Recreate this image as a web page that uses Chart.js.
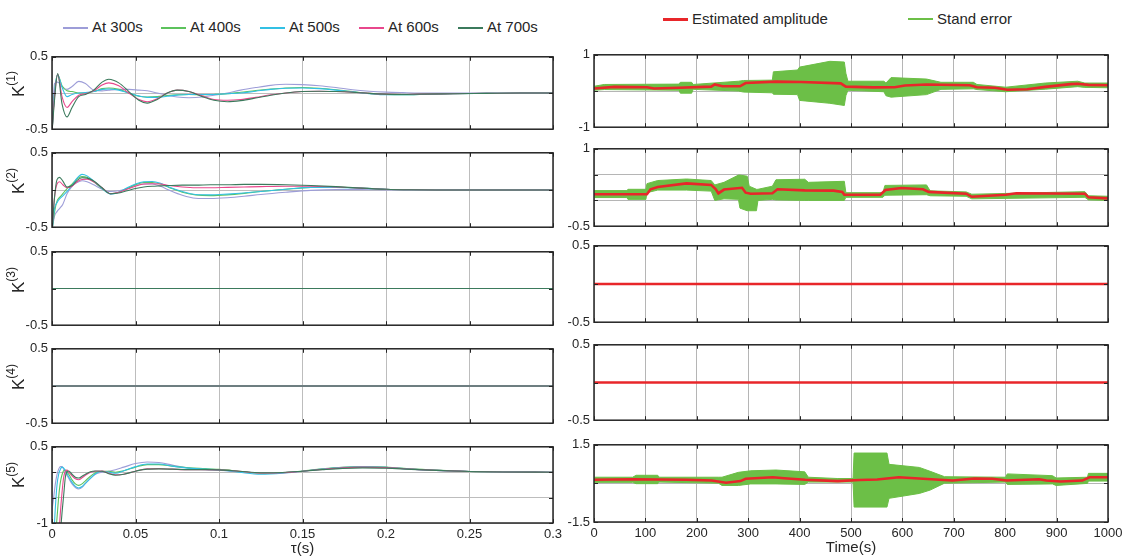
<!DOCTYPE html>
<html><head><meta charset="utf-8">
<script src="https://cdn.jsdelivr.net/npm/chart.js@4.4.1/dist/chart.umd.min.js"></script>
<style>
html,body{margin:0;padding:0;background:#fff;}
body{width:1126px;height:558px;position:relative;overflow:hidden;font-family:"Liberation Sans",Arial,Helvetica,sans-serif;color:#262626;}
.box{position:absolute;}
.leg{position:absolute;font-size:15px;line-height:18px;white-space:nowrap;}
.sw{position:absolute;}
.ylab{position:absolute;transform:rotate(-90deg);transform-origin:0 0;font-size:17px;line-height:20px;white-space:nowrap;}
.ylab sup{font-size:12px;line-height:0;position:relative;top:-2px;}
</style></head><body>
<script>
// ---------------- DATA ----------------
const legendLeft = ['At 300s','At 400s','At 500s','At 600s','At 700s'];
const legendRight = ['Estimated amplitude','Stand error'];
const kLabels = ['(1)','(2)','(3)','(4)','(5)'];

const tauTicks = [0,0.05,0.1,0.15,0.2,0.25,0.3];
const tauLabels = ['0','0.05','0.1','0.15','0.2','0.25','0.3'];
const timeTicks = [0,100,200,300,400,500,600,700,800,900,1000];
const timeLabels = ['0','100','200','300','400','500','600','700','800','900','1000'];

const leftYTicks = [[-0.5,0,0.5],[-0.5,0,0.5],[-0.5,0,0.5],[-0.5,0,0.5],[-1,-0.5,0,0.5]];
const leftYLabels = [['-0.5','','0.5'],['-0.5','','0.5'],['-0.5','','0.5'],['-0.5','','0.5'],['-1','','','0.5']];
const rightYTicks = [[-1,0,1],[-0.5,0,0.5,1],[-0.5,0,0.5],[-0.5,0,0.5],[-1.5,0,1.5]];
const rightYLabels = [['-1','','1'],['-0.5','','','1'],['-0.5','','0.5'],['-0.5','','0.5'],['-1.5','','1.5']];

// K(1)
const tauK1 = [0,0.0015,0.0034,0.006,0.009,0.012,0.016,0.02,0.025,0.03,0.034,0.04,0.046,0.052,0.057,0.063,0.069,0.075,0.082,0.09,0.097,0.105,0.113,0.122,0.131,0.14,0.15,0.16,0.17,0.18,0.19,0.2,0.21,0.22,0.24,0.26,0.28,0.3];
const k1_300 = [-0.55,0.13,0.15,0.09,0.05,0.09,0.16,0.13,0.04,0.03,0.04,0.05,0.05,0.04,0.03,0.0,-0.03,-0.055,-0.065,-0.055,-0.03,0.0,0.04,0.075,0.105,0.12,0.115,0.1,0.075,0.045,0.025,0.012,0.005,0,0,0,0,0];
const k1_400 = [-0.55,0.0,0.25,0.1,0.03,0.02,0.0,0.0,0.02,0.06,0.07,0.05,0.0,-0.045,-0.055,-0.05,-0.035,-0.025,-0.02,-0.025,-0.02,-0.01,0.01,0.035,0.055,0.07,0.075,0.065,0.045,0.02,-0.005,-0.02,-0.025,-0.02,-0.01,-0.005,0,0];
const k1_500 = [-0.55,0.0,0.25,0.08,-0.05,-0.02,0.0,0.005,0.02,0.05,0.055,0.04,0.0,-0.04,-0.06,-0.06,-0.045,-0.03,-0.02,-0.02,-0.02,-0.01,0.0,0.025,0.05,0.065,0.07,0.06,0.04,0.015,-0.01,-0.025,-0.025,-0.02,-0.01,-0.005,0,0];
const k1_600 = [-0.55,-0.05,0.26,-0.05,-0.2,-0.12,-0.03,-0.01,0.03,0.11,0.14,0.1,0.0,-0.09,-0.12,-0.08,0.0,0.04,0.02,-0.04,-0.09,-0.1,-0.09,-0.06,-0.025,0.0,0.02,0.025,0.02,0.01,-0.005,-0.015,-0.02,-0.015,-0.01,-0.005,0,0];
const k1_700 = [-0.55,-0.1,0.27,-0.15,-0.33,-0.2,-0.05,-0.02,0.04,0.15,0.19,0.14,0.02,-0.1,-0.14,-0.09,0.0,0.04,0.02,-0.05,-0.1,-0.12,-0.105,-0.07,-0.03,0.0,0.02,0.025,0.02,0.01,-0.005,-0.015,-0.02,-0.015,-0.01,-0.005,0,0];

// K(2)
const tauK2 = [0,0.0015,0.003,0.0045,0.0065,0.009,0.012,0.015,0.018,0.021,0.025,0.03,0.035,0.04,0.045,0.05,0.055,0.06,0.065,0.07,0.078,0.086,0.095,0.105,0.115,0.125,0.14,0.155,0.17,0.185,0.2,0.215,0.23,0.26,0.3];
const k2_300 = [-0.55,-0.35,-0.29,-0.25,-0.19,-0.05,0.05,0.1,0.125,0.11,0.07,0.01,-0.02,-0.01,0.02,0.06,0.08,0.08,0.05,0.0,-0.07,-0.11,-0.115,-0.105,-0.085,-0.06,-0.03,-0.005,0.005,0.005,0.002,0,0,0,0];
const k2_400 = [-0.55,-0.3,-0.15,-0.1,-0.05,0.02,0.08,0.15,0.18,0.17,0.11,0.02,-0.05,-0.03,0.02,0.07,0.1,0.1,0.08,0.035,-0.03,-0.065,-0.075,-0.065,-0.045,-0.02,0.01,0.035,0.04,0.025,0.01,0.003,0,0,0];
const k2_500 = [-0.55,-0.25,-0.17,-0.12,-0.08,-0.02,0.06,0.16,0.21,0.19,0.12,0.02,-0.055,-0.03,0.03,0.08,0.11,0.115,0.09,0.04,-0.02,-0.06,-0.065,-0.055,-0.04,-0.02,0.01,0.035,0.035,0.025,0.01,0.003,0,0,0];
const k2_600 = [-0.55,-0.1,0.08,0.11,0.07,0.03,0.05,0.11,0.14,0.145,0.11,0.03,-0.05,-0.03,0.01,0.05,0.08,0.085,0.08,0.06,0.04,0.03,0.03,0.035,0.04,0.045,0.05,0.05,0.04,0.025,0.01,0.003,0,0,0];
const k2_700 = [-0.55,-0.1,0.14,0.17,0.12,0.04,0.06,0.13,0.165,0.16,0.12,0.03,-0.05,-0.04,-0.01,0.02,0.04,0.05,0.055,0.06,0.065,0.065,0.07,0.07,0.075,0.075,0.07,0.06,0.045,0.025,0.01,0.003,0,0,0];

// K(3), K(4)
const tauFlat = [0,0.3];
const kFlat = [0,0];

// K(5)
const tauK5 = [0,0.001,0.002,0.003,0.004,0.005,0.006,0.007,0.008,0.009,0.01,0.012,0.014,0.016,0.018,0.02,0.023,0.026,0.03,0.034,0.038,0.043,0.05,0.057,0.064,0.072,0.082,0.092,0.1,0.112,0.125,0.138,0.15,0.162,0.174,0.186,0.2,0.215,0.23,0.25,0.27,0.3];
const k5_300 = [-0.75,-0.5,-0.23,-0.05,0.06,0.11,0.11,0.06,0.0,-0.06,-0.12,-0.23,-0.3,-0.33,-0.3,-0.22,-0.12,-0.04,0.0,0.02,0.05,0.1,0.17,0.2,0.19,0.14,0.08,0.05,0.04,0.01,-0.02,-0.01,0.02,0.06,0.095,0.11,0.095,0.06,0.035,0.015,0.005,0];
const k5_400 = [-1.6,-1.6,-1.3,-0.9,-0.49,-0.2,-0.05,0.03,0.04,0.0,-0.04,-0.15,-0.23,-0.26,-0.23,-0.17,-0.08,-0.01,0.02,0.02,0.0,0.03,0.1,0.15,0.15,0.12,0.085,0.07,0.055,0.02,-0.02,-0.01,0.025,0.065,0.095,0.11,0.1,0.065,0.04,0.015,0.005,0];
const k5_500 = [-1.6,-1.3,-0.7,-0.25,-0.04,0.06,0.1,0.08,0.03,-0.03,-0.09,-0.2,-0.28,-0.31,-0.28,-0.22,-0.12,-0.03,0.02,0.0,-0.02,0.03,0.11,0.16,0.16,0.12,0.08,0.06,0.045,0.0,-0.04,-0.02,0.02,0.06,0.09,0.105,0.095,0.06,0.035,0.015,0.005,0];
const k5_600 = [-1.6,-1.6,-1.6,-1.6,-1.3,-0.8,-0.4,-0.1,0.02,0.04,0.0,-0.07,-0.13,-0.15,-0.11,-0.06,0.0,0.02,0.025,-0.02,-0.05,-0.04,0.02,0.065,0.07,0.06,0.05,0.05,0.045,0.02,-0.015,-0.01,0.02,0.055,0.085,0.1,0.09,0.06,0.035,0.015,0.005,0];
const k5_700 = [-1.6,-1.6,-1.6,-1.6,-1.6,-1.2,-0.8,-0.45,-0.1,0.01,0.025,-0.04,-0.1,-0.115,-0.08,-0.04,0.01,0.025,0.02,-0.03,-0.06,-0.04,0.02,0.06,0.065,0.06,0.05,0.05,0.045,0.02,-0.01,-0.005,0.02,0.05,0.075,0.085,0.08,0.055,0.035,0.015,0.005,0];

// Right panel 1
const estT1 = [0,40,103,117,165,228,235,250,284,295,354,403,480,490,543,585,605,647,731,745,780,804,843,878,927,941,962,1000];
const est1 = [0.07,0.115,0.105,0.07,0.09,0.12,0.18,0.13,0.13,0.22,0.26,0.25,0.21,0.12,0.1,0.105,0.15,0.18,0.16,0.105,0.09,0.035,0.05,0.115,0.19,0.2,0.17,0.16];
const bandT1 = [0,20,165,168,190,193,281,291,347,349,396,400,459,487,490,494,564,568,578,647,675,738,745,801,878,941,955,1000];
const hi1 = [0.13,0.18,0.19,0.24,0.24,0.18,0.27,0.29,0.30,0.53,0.58,0.66,0.82,0.80,0.49,0.27,0.27,0.22,0.37,0.33,0.24,0.24,0.18,0.105,0.22,0.27,0.22,0.22];
const lo1 = [0.02,0.04,0.02,-0.06,-0.06,0.045,0.0,-0.03,-0.05,-0.09,-0.1,-0.26,-0.34,-0.4,-0.13,0.02,-0.02,-0.13,-0.17,-0.1,0.045,0.06,0.04,-0.02,0.05,0.12,0.1,0.09];

// Right panel 2
const estT2 = [0,103,110,124,180,228,237,242,253,288,295,305,347,357,410,466,483,487,557,567,598,640,651,724,735,801,822,955,962,1000];
const est2 = [0.12,0.12,0.215,0.26,0.33,0.3,0.215,0.135,0.21,0.245,0.15,0.13,0.14,0.215,0.195,0.19,0.165,0.11,0.11,0.2,0.24,0.215,0.165,0.13,0.07,0.11,0.14,0.13,0.06,0.04];
const bandT2 = [0,64,66,101,103,124,180,228,235,253,281,284,298,302,316,319,347,354,410,417,487,490,562,566,647,654,724,735,955,962,1000];
const hi2 = [0.19,0.19,0.215,0.215,0.325,0.385,0.415,0.385,0.3,0.35,0.49,0.49,0.47,0.275,0.215,0.215,0.275,0.4,0.41,0.35,0.37,0.15,0.15,0.29,0.3,0.185,0.165,0.12,0.17,0.09,0.08];
const lo2 = [0.055,0.055,0.02,0.02,0.15,0.2,0.2,0.18,0.0,0.03,0.02,-0.15,-0.2,-0.2,-0.2,0.0,0.02,0.01,0.0,0.0,0.0,0.06,0.06,0.1,0.11,0.09,0.08,0.03,0.06,0.01,0.0];

// Right panels 3 and 4
const estTFlat = [0,1000];
const estFlat = [0,0];

// Right panel 5
const estT5 = [0,75,180,229,257,285,295,348,370,411,474,516,551,593,656,698,740,775,803,866,880,908,950,964,1000];
const est5 = [0.14,0.16,0.14,0.11,0.025,0.09,0.18,0.24,0.2,0.14,0.09,0.13,0.15,0.24,0.16,0.11,0.19,0.18,0.11,0.16,0.11,0.075,0.11,0.24,0.24];
const bandT5 = [0,75,82,124,127,242,249,281,305,354,410,417,473,504,506,570,574,633,654,682,801,804,892,899,960,962,1000];
const hi5 = [0.24,0.24,0.315,0.315,0.24,0.24,0.24,0.43,0.49,0.52,0.45,0.24,0.19,0.19,1.18,1.18,0.74,0.62,0.47,0.26,0.24,0.37,0.3,0.21,0.24,0.39,0.39];
const lo5 = [0.04,0.04,-0.01,-0.01,0.05,0.01,-0.08,-0.08,-0.02,-0.02,-0.04,0.05,0.05,0.05,-0.92,-0.92,-0.58,-0.39,-0.26,0.01,0.05,-0.04,-0.02,-0.08,0.0,0.09,0.09];

// ---------------- STYLE / LAYOUT ----------------
const FONT = '"Liberation Sans", Arial, sans-serif';
const TXT = '#262626';
const seriesColors = ['#9d9dd8','#5cc25c','#33c0e4','#e8478c','#3b7a5c'];
const RED = '#e8262a', GREEN = '#6cbf47';
const LX0 = 52, LX1 = 553, RX0 = 594, RX1 = 1108;
const leftRows = [[55,131],[151,229],[250,327],[347,425],[445,523]];
const rightRows = [[53,129],[147,228],[244,324],[343,422],[443,522]];

const zip = (xs, ys) => xs.map((x, i) => ({x: x, y: ys[i]}));

const framePlugin = {
  id: 'frame',
  afterDatasetsDraw(chart) {
    const {ctx, chartArea: a, scales} = chart;
    ctx.save();
    ctx.strokeStyle = '#262626';
    ctx.lineWidth = 1;
    ctx.beginPath();
    scales.x.ticks.forEach(t => {
      const p = Math.round(scales.x.getPixelForValue(t.value)) + 0.5;
      ctx.moveTo(p, a.top); ctx.lineTo(p, a.top + 4);
      ctx.moveTo(p, a.bottom); ctx.lineTo(p, a.bottom - 4);
    });
    scales.y.ticks.forEach(t => {
      const p = Math.round(scales.y.getPixelForValue(t.value)) + 0.5;
      ctx.moveTo(a.left, p); ctx.lineTo(a.left + 4, p);
      ctx.moveTo(a.right, p); ctx.lineTo(a.right - 4, p);
    });
    ctx.stroke();
    ctx.lineWidth = 1.5;
    ctx.strokeRect(a.left, a.top, a.right - a.left, a.bottom - a.top);
    ctx.restore();
  }
};

function panel(o) {
  const padL = 45, padR = 20, padT = 10, padB = o.showX ? 35 : 10;
  const w = o.x1 - o.x0, h = o.y1 - o.y0;
  const W = w + padL + padR, H = h + padT + padB;
  const div = document.createElement('div');
  div.className = 'box';
  div.style.left = (o.x0 - padL) + 'px';
  div.style.top = (o.y0 - padT) + 'px';
  div.style.width = W + 'px'; div.style.height = H + 'px';
  const cv = document.createElement('canvas');
  cv.width = W; cv.height = H;
  cv.style.width = W + 'px'; cv.style.height = H + 'px';
  div.appendChild(cv);
  document.body.appendChild(div);
  const yMin = o.yTicks[0], yMax = o.yTicks[o.yTicks.length - 1];
  new Chart(cv, {
    type: 'line',
    data: {datasets: o.datasets},
    options: {
      responsive: false, animation: false, devicePixelRatio: 1,
      layout: {padding: {top: padT, right: padR, left: 0, bottom: 0}},
      plugins: {legend: {display: false}, tooltip: {enabled: false}},
      elements: {point: {radius: 0}},
      scales: {
        x: {
          type: 'linear', min: o.xTicks[0], max: o.xTicks[o.xTicks.length - 1],
          afterBuildTicks: s => { s.ticks = o.xTicks.map(v => ({value: v})); },
          afterFit: s => { s.height = padB; },
          grid: {color: o.gridColor, drawTicks: false, lineWidth: 1},
          border: {display: false},
          ticks: {display: !!o.showX, padding: 4, color: TXT, maxRotation: 0, autoSkip: false,
                  font: {family: FONT, size: 13}, callback: (v, i) => o.xLabels[i]},
          title: {display: !!o.showX, text: o.xTitle || '', color: TXT, padding: 0,
                  font: {family: FONT, size: 15}}
        },
        y: {
          type: 'linear', min: yMin, max: yMax,
          afterBuildTicks: s => { s.ticks = o.yTicks.map(v => ({value: v})); },
          afterFit: s => { s.width = padL; },
          grid: {color: o.gridColor, drawTicks: false, lineWidth: 1},
          border: {display: false},
          ticks: {padding: 4, color: TXT, autoSkip: false,
                  font: {family: FONT, size: 13}, callback: (v, i) => o.yLabels[i]}
        }
      }
    },
    plugins: [framePlugin]
  });
}

function leftSets(tau, arrs) {
  return arrs.map((a, i) => ({
    data: zip(tau, a), borderColor: seriesColors[i], borderWidth: 1.1,
    pointRadius: 0, fill: false, cubicInterpolationMode: 'monotone', order: 10 - i
  }));
}
function rightSets(bt, hi, lo, et, est) {
  return [
    {data: zip(bt, hi), borderColor: GREEN, backgroundColor: GREEN, borderWidth: 1, pointRadius: 0, fill: '+1', order: 3},
    {data: zip(bt, lo), borderColor: GREEN, borderWidth: 1, pointRadius: 0, fill: false, order: 2},
    {data: zip(et, est), borderColor: RED, borderWidth: 2.6, pointRadius: 0, fill: false, order: 0}
  ];
}

const leftData = [
  leftSets(tauK1, [k1_300, k1_400, k1_500, k1_600, k1_700]),
  leftSets(tauK2, [k2_300, k2_400, k2_500, k2_600, k2_700]),
  leftSets(tauFlat, [kFlat, kFlat, kFlat, kFlat, kFlat]),
  leftSets(tauFlat, [kFlat, kFlat, kFlat, kFlat, kFlat]),
  leftSets(tauK5, [k5_300, k5_400, k5_500, k5_600, k5_700])
];
const rightData = [
  rightSets(bandT1, hi1, lo1, estT1, est1),
  rightSets(bandT2, hi2, lo2, estT2, est2),
  rightSets(estTFlat, estFlat, estFlat, estTFlat, estFlat),
  rightSets(estTFlat, estFlat, estFlat, estTFlat, estFlat),
  rightSets(bandT5, hi5, lo5, estT5, est5)
];

for (let i = 0; i < 5; i++) {
  panel({x0: LX0, x1: LX1, y0: leftRows[i][0], y1: leftRows[i][1],
         xTicks: tauTicks, xLabels: tauLabels, yTicks: leftYTicks[i], yLabels: leftYLabels[i],
         showX: i === 4, xTitle: 'τ(s)', gridColor: '#bdbdbd', datasets: leftData[i]});
  panel({x0: RX0, x1: RX1, y0: rightRows[i][0], y1: rightRows[i][1],
         xTicks: timeTicks, xLabels: timeLabels, yTicks: rightYTicks[i], yLabels: rightYLabels[i],
         showX: i === 4, xTitle: 'Time(s)', gridColor: '#b5b5b5', datasets: rightData[i]});
  // y-axis title K^(i)
  const lab = document.createElement('div');
  lab.className = 'ylab';
  lab.innerHTML = 'K<sup>' + kLabels[i] + '</sup>';
  const c = (leftRows[i][0] + leftRows[i][1]) / 2;
  lab.style.left = '9px';
  lab.style.top = (c + 4) + 'px';
  document.body.appendChild(lab);
}

// legends
const legLeftX = [63, 161, 260, 359, 458];
legendLeft.forEach((name, i) => {
  const s = document.createElement('div');
  s.className = 'sw';
  s.style.cssText = 'left:' + legLeftX[i] + 'px;top:27px;width:25px;height:1.5px;background:' + seriesColors[i] + ';';
  document.body.appendChild(s);
  const t = document.createElement('div');
  t.className = 'leg';
  t.style.left = (legLeftX[i] + 29) + 'px';
  t.style.top = '18px';
  t.textContent = name;
  document.body.appendChild(t);
});
const legRightX = [663, 908];
const legRightCol = [RED, GREEN];
const legRightH = [3, 1.5];
legendRight.forEach((name, i) => {
  const s = document.createElement('div');
  s.className = 'sw';
  s.style.cssText = 'left:' + legRightX[i] + 'px;top:' + (19 - legRightH[i] / 2) + 'px;width:25px;height:' + legRightH[i] + 'px;background:' + legRightCol[i] + ';';
  document.body.appendChild(s);
  const t = document.createElement('div');
  t.className = 'leg';
  t.style.left = (legRightX[i] + 29) + 'px';
  t.style.top = '10px';
  t.textContent = name;
  document.body.appendChild(t);
});
</script>
</body></html>
